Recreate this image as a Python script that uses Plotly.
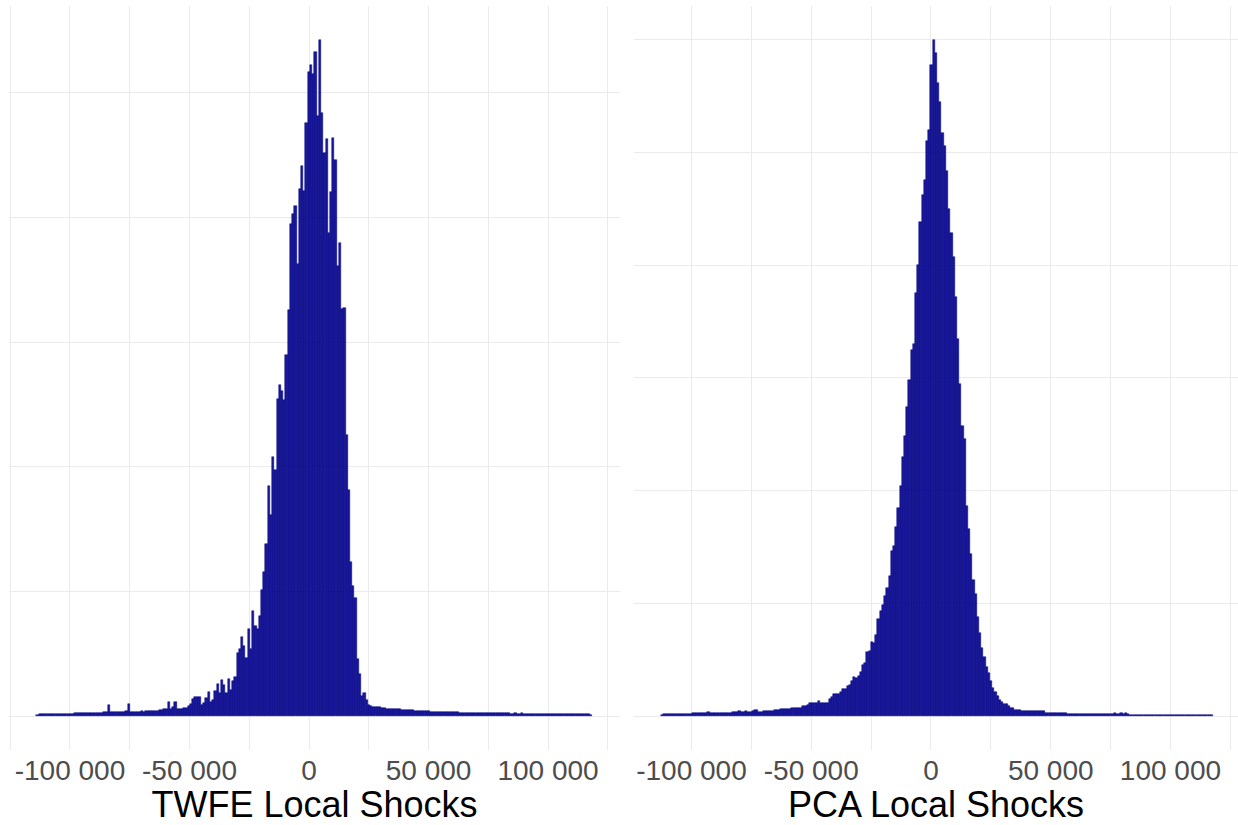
import numpy as np
import plotly.graph_objects as go

# ---------------- data (bin counts) ----------------
twfe_bin_start = -114000
twfe_bin_width = 930
twfe_counts = [
    1.0,
    1.7, 1.7, 1.7, 1.7, 1.7, 1.7, 1.7, 1.7, 1.7, 1.7, 1.7, 1.7, 1.7, 1.7, 1.7, 1.7,
    2.7, 2.7, 2.7, 2.7, 2.7, 2.7, 2.7, 2.7, 2.7, 2.7, 2.7, 2.7, 2.7,
    3.7, 3.7, 10.7,
    3.7, 3.7, 3.7, 3.7, 3.7, 3.7, 3.7,
    4.7, 11.7,
    3.7, 3.7, 3.7, 3.7, 3.7,
    4.7, 3.7,
    4.7, 4.7, 4.7, 4.7, 4.7, 4.7,
    5.7, 5.7, 6.7, 6.7, 13.7, 6.7, 8.7, 13.7,
    6.7, 6.7, 6.7, 7.7, 7.7, 9.7, 11.7, 16.7, 18.7, 18.7, 18.7, 10.7, 12.7, 17.7,
    23.7, 14, 15.7, 24.7, 31.7, 23, 35.7, 30.7, 22.7, 36.7, 25.7, 35, 39, 63,
    67, 79, 70, 58, 87, 67, 105, 90, 87, 100, 126, 144, 172, 230, 201, 259, 246,
    317, 331, 325, 316, 361, 406, 492, 502, 510, 452, 527, 550, 525, 593, 644,
    651, 642, 664, 600, 676, 603, 563, 577, 483, 524, 578, 556, 450, 473, 407,
    408, 281, 226, 154, 130, 118, 57, 42, 20, 23, 16,
    10.7, 9.7, 9.2, 8.7, 8.7, 8.7, 7.7, 7.7,
    6.7, 6.7, 6.7, 6.7, 6.7, 6.7, 6.7,
    5.7, 5.7, 5.7, 5.7, 5.7, 5.7,
    4.7, 4.7, 4.7, 4.7, 4.7, 4.7, 4.7,
    3.7, 3.7, 3.7, 3.7, 3.7, 3.7, 3.7, 3.7, 3.7, 3.7, 3.7, 3.7, 3.7,
    2.7, 2.7, 2.7, 2.7, 2.7, 2.7, 2.7, 2.7, 2.7, 2.7, 2.7, 2.7, 2.7, 2.7, 2.7,
    2.7, 2.7, 2.7, 2.7, 2.7, 2.7, 2.7, 2.7,
    1.7, 1.7, 2.7, 1.7, 1.7, 2.7,
    1.7, 1.7, 1.7, 1.7, 1.7, 1.7, 1.7, 1.7, 1.7, 1.7, 1.7, 1.7, 1.7, 1.7, 1.7,
    1.7, 1.7, 1.7, 1.7, 1.7, 1.7, 1.7, 1.7, 1.7, 1.7, 1.7, 1.7, 1.7, 1.7, 1.7,
    0.7,
]

pca_bin_start = -112700
pca_bin_width = 922
pca_counts = [
    1.0,
    1.7, 1.7, 1.7, 1.7, 1.7, 1.7, 1.7, 1.7, 1.7, 1.7, 1.7, 1.7, 1.7,
    2.7, 2.7, 2.7, 2.7, 2.7, 2.7, 2.7,
    3.7,
    2.7, 2.7, 2.7, 2.7, 2.7, 2.7, 2.7, 2.7, 2.7, 2.7,
    3.7, 3.7, 3.7, 4.7, 3.7, 3.7, 4.7, 3.7, 3.7, 4.7, 5.7, 5.7, 3.7, 3.7,
    4.7, 4.7, 4.7, 4.7, 4.7,
    6.3, 6.3, 6.3, 7.3, 7.3, 6.7, 6.7, 6.7,
    7.7, 7.7, 7.7, 7.7, 7.7, 9.7, 9.7, 11.3,
    12.7, 12.7, 12.7, 12.7, 14.7, 13.5, 13.5, 13.5, 13.5, 16.7, 18.7,
    22, 22, 22, 24.5, 27.5, 27.5, 30, 31.5, 35.5, 39, 38, 40.5, 44, 51.5, 53.5,
    64.5, 65, 74, 73, 81, 97, 105, 111, 120, 128, 140, 165, 170, 189, 208, 230,
    259, 280, 309, 336, 366, 372, 423, 451, 494, 521, 536, 575, 586, 651, 676,
    663, 633, 614, 583, 570, 545, 507, 483, 459, 419, 377, 332, 290, 277, 210,
    187, 162, 136, 122, 99, 83, 68, 59, 49, 43, 35, 28, 24, 20, 16, 14, 12, 12,
    10, 8, 8, 6, 6, 6,
    5.5, 5.5, 5.5, 5.5,
    4.7, 4.7, 4.7, 4.7, 4.7, 4.7, 4.7,
    3.5, 3.5, 3.5, 3.5, 3.5, 3.5, 3.5, 3.5, 3.5, 3.5,
    2.4, 2.4, 2.4, 2.4, 2.4, 2.4, 2.4, 2.4, 2.4, 2.4,
    2.4, 2.4, 2.4, 2.4, 2.4, 2.4, 2.4, 2.4, 2.4, 2.4,
    2.4, 2.8, 2.4, 2.4, 3.0, 2.4, 2.8, 2.4,
    1.6, 1.6, 1.6, 1.6, 1.6, 1.6, 1.6, 1.6, 1.6, 1.6, 1.6, 1.6, 1.6, 1.6, 1.6,
    1.6, 1.6, 1.6, 1.6, 1.6, 1.6, 1.6, 1.6, 1.6, 1.6, 1.6, 1.6, 1.6, 1.6, 1.6,
    1.6, 1.6, 1.6, 1.6, 1.6, 1.6, 1.6,
    1.0,
]

tick_values = [-100000, -50000, 0, 50000, 100000]
tick_labels = ["-100 000", "-50 000", "0", "50 000", "100 000"]
panel_titles = ["TWFE Local Shocks", "PCA Local Shocks"]

# ---------------- figure ----------------
W, H = 1238, 825
FONT = "Liberation Sans, Arial, sans-serif"
GRID = "#EBEBEB"
FILL = "rgba(0,0,139,0.9)"
EDGE = "#00008B"


def centers(start, width, n):
    return start + width * (np.arange(n) + 0.5)


fig = go.Figure()
fig.add_trace(go.Bar(
    x=centers(twfe_bin_start, twfe_bin_width, len(twfe_counts)), y=twfe_counts,
    width=twfe_bin_width, marker=dict(color=FILL, line=dict(color=EDGE, width=0.5)),
    xaxis="x", yaxis="y", showlegend=False, hoverinfo="skip"))
fig.add_trace(go.Bar(
    x=centers(pca_bin_start, pca_bin_width, len(pca_counts)), y=pca_counts,
    width=pca_bin_width, marker=dict(color=FILL, line=dict(color=EDGE, width=0.5)),
    xaxis="x2", yaxis="y2", showlegend=False, hoverinfo="skip"))

ydom = [75 / H, 819 / H]


def xaxis(domain, rng, title, anchor):
    return dict(
        domain=domain, range=rng, anchor=anchor,
        tickmode="array", tickvals=tick_values, ticktext=tick_labels,
        showgrid=True, gridcolor=GRID, gridwidth=1.4, zeroline=False,
        showline=False, ticks="",
        minor=dict(dtick=25000, tick0=0, showgrid=True, gridcolor=GRID, gridwidth=1.2),
        tickfont=dict(family=FONT, size=28, color="#4D4D4D"),
        ticklabelstandoff=1,
        title=dict(text=title, font=dict(family=FONT, size=36, color="black"), standoff=2),
        automargin=False,
    )


def yaxis(domain, rng, dtick, anchor):
    return dict(
        domain=domain, range=rng, anchor=anchor, showticklabels=False,
        showgrid=True, gridcolor=GRID, gridwidth=1.4, zeroline=False, ticks="",
        tick0=0, dtick=dtick, automargin=False,
    )


fig.update_layout(
    width=W, height=H,
    margin=dict(l=0, r=0, t=0, b=0),
    paper_bgcolor="white", plot_bgcolor="white",
    bargap=0, barmode="overlay",
    xaxis=xaxis([9 / W, 620 / W], [-125500, 130100], panel_titles[0], "y"),
    yaxis=yaxis(ydom, [-33.8, 709.8], 124.6, "x"),
    xaxis2=xaxis([634 / W, 1.0], [-124000, 128200], panel_titles[1], "y2"),
    yaxis2=yaxis(ydom, [-33.8, 709.8], 112.67, "x2"),
    font=dict(family=FONT),
)

fig.write_html("out.html")
